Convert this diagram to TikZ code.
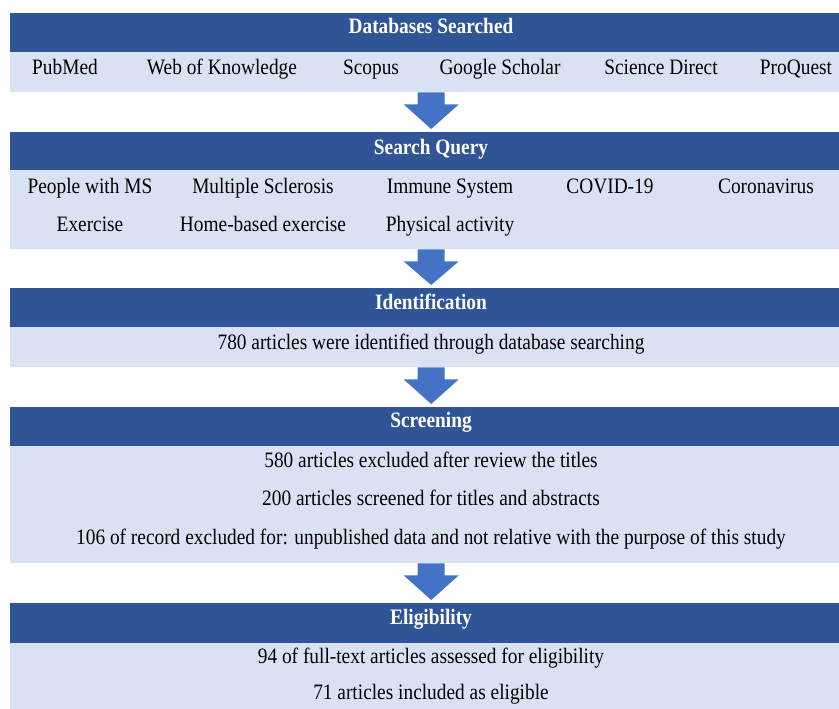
\documentclass[tikz,border=0pt]{standalone}
\usepackage{fontspec}
\setmainfont[FakeStretch=0.88]{Liberation Serif}
\usetikzlibrary{calc}
\definecolor{headblue}{HTML}{2F5597}
\definecolor{bodyblue}{HTML}{D9E2F3}
\definecolor{arrowblue}{HTML}{4472C4}
\def\blockarrow(#1)(#2){\fill[arrowblue] ($(#1.south)+(-13.5,0)$) -- ($(#1.south)+(-13.5,12)$) -- ($(#1.south)+(-27.5,12)$) -- ($(#2.north)+(0,-3)$) -- ($(#1.south)+(27.5,12)$) -- ($(#1.south)+(13.5,12)$) -- ($(#1.south)+(13.5,0)$) -- cycle;}
\tikzset{
	head/.style={fill=headblue, anchor=north west, minimum width=842, minimum height=#1, inner sep=0},
	panel/.style={fill=bodyblue, anchor=north west, minimum width=842, minimum height=#1, inner sep=0},
	title/.style={anchor=base, text=white, font=\bfseries\fontsize{22}{24}\selectfont, inner sep=0},
	item/.style={anchor=base, font=\fontsize{22}{24}\selectfont, inner sep=0}
}

\begin{document}
\begin{tikzpicture}[x=1pt, y=-1pt]
		%%%%% START %%%%%
		\clip (0, 0) rectangle (839, 709);
		\fill[white] (0, 0) rectangle (839, 709);
		
		%% databases
		\node[head=39] (dbhead) at (10, 13) {};
		\node[panel=40] (dbbody) at (10, 52) {};
		\node[title] (dbtitle) at (431, 34) {Databases Searched};
		\node[item] (pubmed) at (65, 75) {PubMed};
		\node[item] (wok) at (222, 75) {Web of Knowledge};
		\node[item] (scopus) at (371, 75) {Scopus};
		\node[item] (scholar) at (500, 75) {Google Scholar};
		\node[item] (scidirect) at (661, 75) {Science Direct};
		\node[item] (proquest) at (796, 75) {ProQuest};
		
		%% search query
		\node[head=38] (qhead) at (10, 132) {};
		\node[panel=79] (qbody) at (10, 170) {};
		\node[title] (qtitle) at (431, 154) {Search Query};
		\node[item] (pwms) at (90, 193) {People with MS};
		\node[item] (ms) at (263, 193) {Multiple Sclerosis};
		\node[item] (immune) at (450, 193) {Immune System};
		\node[item] (covid) at (610, 193) {COVID-19};
		\node[item] (corona) at (766, 193) {Coronavirus};
		\node[item] (exercise) at (90, 231) {Exercise};
		\node[item] (homeex) at (263, 231) {Home-based exercise};
		\node[item] (physact) at (450, 231) {Physical activity};
		
		%% identification
		\node[head=39] (idhead) at (10, 288) {};
		\node[panel=40] (idbody) at (10, 327) {};
		\node[title] (idtitle) at (431, 309) {Identification};
		\node[item] (found) at (431, 349) {780 articles were identified through database searching};
		
		%% screening
		\node[head=39] (schead) at (10, 407) {};
		\node[panel=117] (scbody) at (10, 446) {};
		\node[title] (sctitle) at (431, 427) {Screening};
		\node[item] (excl) at (431, 467) {580 articles excluded after review the titles};
		\node[item] (screened) at (431, 505) {200 articles screened for titles and abstracts};
		\node[item] (excl2) at (431, 544) {106 of record excluded for: unpublished data and not relative with the purpose of this study};
		
		%% eligibility
		\node[head=40] (elhead) at (10, 603) {};
		\node[panel=66] (elbody) at (10, 643) {};
		\node[title] (eltitle) at (431, 624) {Eligibility};
		\node[item] (fulltext) at (431, 663) {94 of full-text articles assessed for eligibility};
		\node[item] (included) at (431, 699) {71 articles included as eligible};
		
		\blockarrow(dbbody)(qhead)
		\blockarrow(qbody)(idhead)
		\blockarrow(idbody)(schead)
		\blockarrow(scbody)(elhead)
		%%%%% END %%%%%
	\end{tikzpicture}
\end{document}
